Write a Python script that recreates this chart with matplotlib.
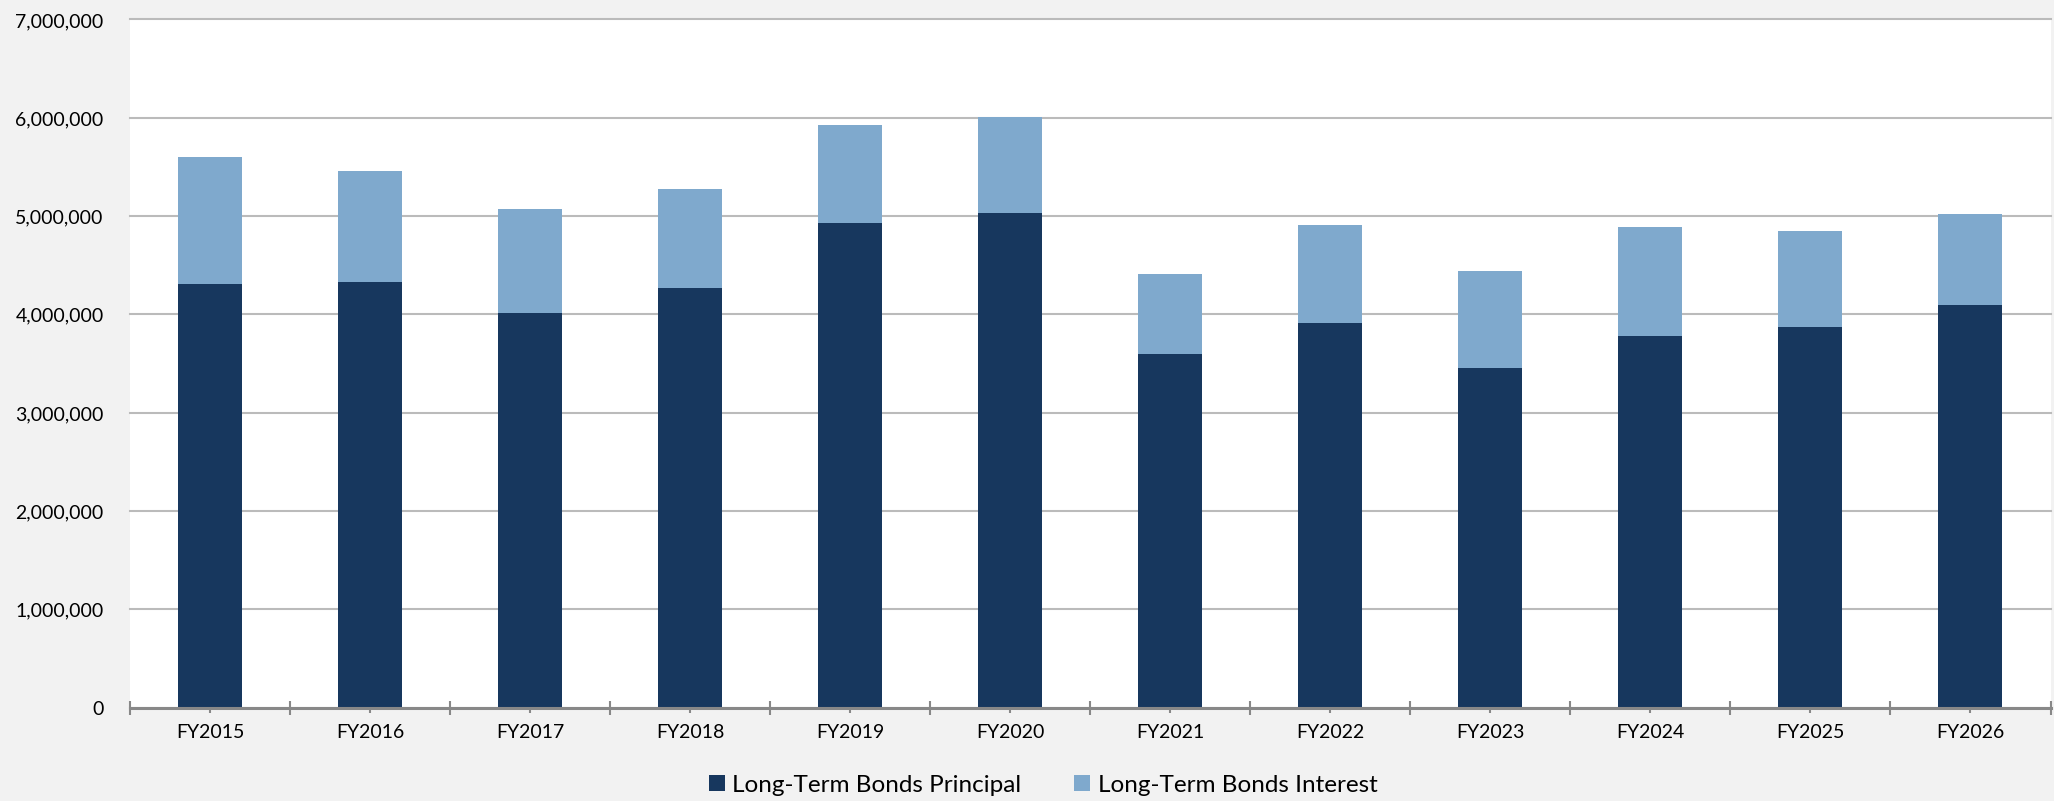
import matplotlib
matplotlib.use("Agg")
import matplotlib.pyplot as plt
from matplotlib.patches import Patch
from matplotlib.ticker import FuncFormatter, FixedLocator
import numpy as np

# Debt service by fiscal year
years = ["FY2015", "FY2016", "FY2017", "FY2018", "FY2019", "FY2020",
         "FY2021", "FY2022", "FY2023", "FY2024", "FY2025", "FY2026"]
principal = [4306000, 4327000, 4011000, 4266000, 4925000, 5034000,
             3593000, 3908000, 3451000, 3776000, 3868000, 4098000]
totals = [5602000, 5460000, 5076000, 5280000, 5923000, 6005000,
          4407000, 4912000, 4444000, 4888000, 4847000, 5017000]
interest = [t - p for t, p in zip(totals, principal)]

series_names = ["Long-Term Bonds Principal", "Long-Term Bonds Interest"]
colors = ["#17375E", "#7FA9CD"]

plt.rcParams["font.family"] = ["Lato", "DejaVu Sans"]

fig = plt.figure(figsize=(20.54, 8.015), dpi=100, facecolor="#F2F2F2")
ax = fig.add_axes([130 / 2054, 1 - 708.5 / 802, (2050.5 - 130) / 2054, (708.5 - 20) / 802])
ax.set_facecolor("white")

x = np.arange(len(years))
ax.bar(x, principal, width=0.4, color=colors[0], zorder=3)
ax.bar(x, interest, width=0.4, bottom=principal, color=colors[1], zorder=3)

ax.set_xlim(-0.5, len(years) - 0.5)
ax.set_ylim(0, 7000000)
ax.set_yticks(np.arange(0, 7000001, 1000000))
ax.yaxis.set_major_formatter(FuncFormatter(lambda v, p: f"{int(v):,}"))
ax.tick_params(axis="y", length=0, pad=19, labelsize=14, labelcolor="black")

# category boundaries as major ticks, category centres as labelled minor ticks
ax.xaxis.set_major_locator(FixedLocator(np.arange(-0.5, len(years), 1.0)))
ax.xaxis.set_major_formatter(FuncFormatter(lambda v, p: ""))
ax.xaxis.set_minor_locator(FixedLocator(x))
ax.set_xticklabels(years, minor=True)
ax.tick_params(axis="x", which="major", direction="inout", length=10, width=1.5,
               color="#888888")
ax.tick_params(axis="x", which="minor", direction="inout", length=7, width=1.5,
               color="#888888", pad=8, labelsize=14, labelcolor="black")

ax.grid(axis="y", color="#BBBBBB", linewidth=1.5, zorder=0)
for gl in ax.get_ygridlines():
    gl.set_clip_on(False)
ax.set_axisbelow(True)

for side in ["left", "right", "top"]:
    ax.spines[side].set_visible(False)
ax.spines["bottom"].set_color("#888888")
ax.spines["bottom"].set_linewidth(2.2)
ax.spines["bottom"].set_zorder(4)

handles = [Patch(facecolor=c, edgecolor="none") for c in colors]
fig.legend(handles, series_names, loc="center", bbox_to_anchor=(1043 / 2054, 1 - 786 / 802),
           ncol=2, frameon=False, fontsize=17.5, handlelength=0.65, handleheight=0.65,
           handletextpad=0.3, columnspacing=2.2)

fig.savefig("out.png", dpi=100, facecolor=fig.get_facecolor())
